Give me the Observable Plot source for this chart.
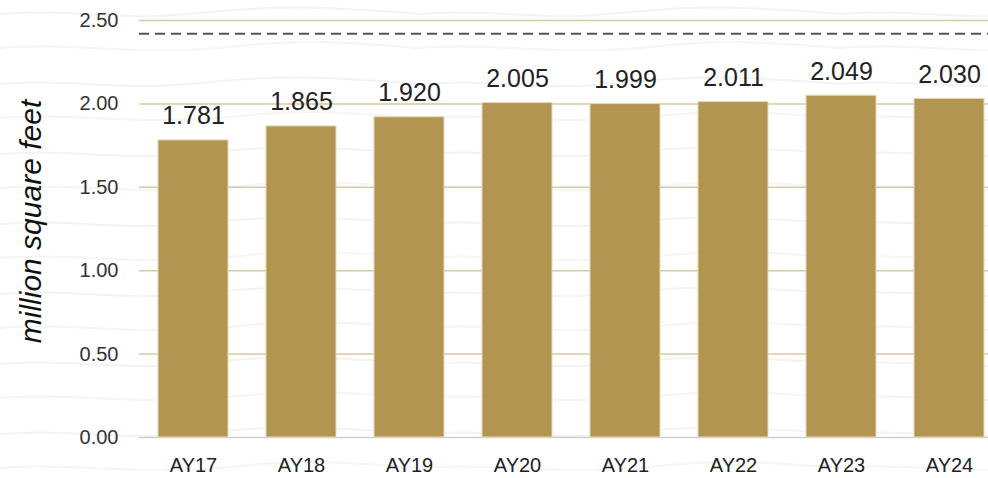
<!DOCTYPE html>
<html>
<head>
<meta charset="utf-8">
<script src="https://cdn.jsdelivr.net/npm/d3@7"></script>
<script src="https://cdn.jsdelivr.net/npm/@observablehq/plot@0.6"></script>
<style>
  html, body { margin: 0; padding: 0; background: #fff; }
  body { width: 988px; height: 478px; overflow: hidden; }
  #chart svg { display: block; }
</style>
</head>
<body>
<div id="chart"></div>
<script>
// Data
const years = ["AY17", "AY18", "AY19", "AY20", "AY21", "AY22", "AY23", "AY24"];
const values = [1.781, 1.865, 1.920, 2.005, 1.999, 2.011, 2.049, 2.030];
const target = 2.42;
const yTicks = [0, 0.5, 1, 1.5, 2, 2.5];
const yLabel = "million square feet";

const data = years.map((year, i) => ({year, value: values[i]}));

// faint wavy background texture (decoration only)
const waveSvg = `<svg xmlns='http://www.w3.org/2000/svg' width='420' height='70'>
<path d='M0 14 C 70 8, 120 22, 200 13 S 330 7, 420 14' fill='none' stroke='#f3f3f3' stroke-width='2'/>
<path d='M0 48 C 60 42, 150 56, 230 47 S 350 43, 420 48' fill='none' stroke='#f5f5f5' stroke-width='2'/>
</svg>`;
document.body.style.backgroundImage = `url("data:image/svg+xml,${encodeURIComponent(waveSvg)}")`;

const font = "'Liberation Sans', Arial, Helvetica, sans-serif";

const plot = Plot.plot({
  width: 988,
  height: 478,
  marginTop: 20,
  marginBottom: 41,
  marginLeft: 139,
  marginRight: 0,
  style: {fontFamily: font, background: "transparent"},
  x: {domain: years, range: [139, 1003], paddingInner: 0.35, paddingOuter: 0.175, label: null},
  y: {domain: [0, 2.5], label: null},
  marks: [
    Plot.ruleY(yTicks.filter(d => d > 0), {stroke: "#D9C9A2", strokeWidth: 1.5}),
    Plot.ruleY([0], {stroke: "#d0d0d0", strokeWidth: 1.5}),
    Plot.barY(data, {x: "year", y: "value", fill: "#B29550", stroke: "#E6D8B5", strokeWidth: 1}),
    Plot.ruleY([target], {stroke: "#555", strokeWidth: 2, strokeDasharray: "10,6"}),
    Plot.text(data, {x: "year", y: "value", text: d => d.value.toFixed(3), dy: -16, lineAnchor: "bottom", fontSize: 25, fill: "#222"}),
    Plot.axisY({ticks: yTicks, tickFormat: d => d.toFixed(2), tickSize: 0, tickPadding: 21, fontSize: 20, fill: "#333", label: null}),
    Plot.axisX({tickSize: 0, tickPadding: 20, fontSize: 20, fill: "#222", label: null, style: {letterSpacing: "0.8px"}}),
    Plot.text([yLabel], {frameAnchor: "left", rotate: -90, dx: -108, dy: -7.5, fontSize: 30, fontStyle: "italic", fill: "#111", textAnchor: "middle", lineAnchor: "middle"})
  ]
});
document.getElementById("chart").appendChild(plot);
</script>
</body>
</html>
